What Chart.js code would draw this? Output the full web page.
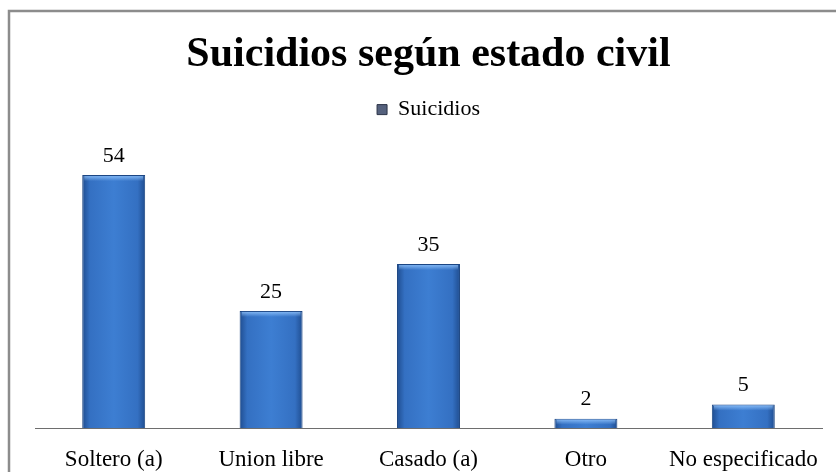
<!DOCTYPE html>
<html>
<head>
<meta charset="utf-8">
<script src="https://cdn.jsdelivr.net/npm/chart.js@4.4.1/dist/chart.umd.min.js"></script>
<style>
  html, body { margin: 0; padding: 0; background: #fff; }
  #wrap { width: 836px; height: 472px; position: relative; }
</style>
</head>
<body>
<div id="wrap"><canvas id="civil"></canvas></div>
<script>
const categories = ['Soltero (a)', 'Union libre', 'Casado (a)', 'Otro', 'No especificado'];
const suicidios = [54, 25, 35, 2, 5];
const seriesLabel = 'Suicidios';
const chartTitle = 'Suicidios según estado civil';

const SERIF = "'Liberation Serif', 'Times New Roman', serif";

// horizontal shading so each bar looks a bit rounded
function barFill(ctx) {
    const chart = ctx.chart;
    const xs = chart.scales.x;
    if (!chart.chartArea || !xs || ctx.dataIndex === undefined) return '#3572c4';
    const center = xs.getPixelForValue(ctx.dataIndex);
    const half = (xs.width / categories.length) * 0.4 / 2;
    const g = chart.ctx.createLinearGradient(center - half, 0, center + half, 0);
    g.addColorStop(0, '#1f4d90');
    g.addColorStop(0.12, '#3470c2');
    g.addColorStop(0.5, '#3d7ed2');
    g.addColorStop(0.88, '#3470c2');
    g.addColorStop(1, '#1f4d90');
    return g;
}

const framePlugin = {
    id: 'frame',
    beforeDraw(chart) {
        const c = chart.ctx;
        c.save();
        c.fillStyle = '#fff';
        c.fillRect(0, 0, chart.width, chart.height);
        c.strokeStyle = '#8c8c8c';
        c.lineWidth = 2.5;
        c.strokeRect(9, 11, chart.width + 10, chart.height + 10);
        c.restore();
    }
};

const valuePlugin = {
    id: 'values',
    afterDatasetsDraw(chart) {
        const c = chart.ctx;
        const meta = chart.getDatasetMeta(0);
        c.save();
        meta.data.forEach((bar, i) => {
            // light rim along the top of each bar
            const half = bar.width / 2;
            const hl = c.createLinearGradient(0, bar.y, 0, bar.y + 6);
            hl.addColorStop(0, 'rgba(150,200,255,0.9)');
            hl.addColorStop(1, 'rgba(150,200,255,0)');
            c.fillStyle = hl;
            c.fillRect(bar.x - half + 2, bar.y + 1, bar.width - 4, 6);

            c.fillStyle = '#000';
            c.font = '22px ' + SERIF;
            c.textAlign = 'center';
            c.textBaseline = 'middle';
            c.fillText(String(suicidios[i]), bar.x, bar.y - 19);
        });
        c.restore();
    }
};

new Chart(document.getElementById('civil'), {
    type: 'bar',
    data: {
        labels: categories,
        datasets: [{
            label: seriesLabel,
            data: suicidios,
            backgroundColor: barFill,
            borderColor: '#1c4683',
            borderWidth: 1,
            barPercentage: 0.4,
            categoryPercentage: 1
        }]
    },
    options: {
        responsive: true,
        maintainAspectRatio: false,
        animation: false,
        devicePixelRatio: 1,
        layout: { padding: { left: 35, right: 14, top: 0, bottom: 0 } },
        plugins: {
            title: {
                display: true,
                text: chartTitle,
                color: '#000',
                font: { family: SERIF, size: 42, weight: 'bold', lineHeight: 0.8 },
                padding: { top: 38, bottom: 0 }
            },
            legend: {
                display: true,
                labels: {
                    color: '#000',
                    font: { family: SERIF, size: 22 },
                    boxWidth: 10,
                    boxHeight: 10,
                    padding: 27,
                    generateLabels: () => [{
                        text: seriesLabel,
                        fillStyle: '#55617d',
                        strokeStyle: '#2c3347',
                        lineWidth: 1,
                        datasetIndex: 0
                    }]
                }
            },
            tooltip: { enabled: false }
        },
        scales: {
            x: {
                grid: { display: false },
                border: { display: true, color: '#6e6e6e', width: 1 },
                ticks: {
                    color: '#000',
                    font: { family: SERIF, size: 23 },
                    padding: 10,
                    maxRotation: 0
                },
                afterFit(scale) { scale.height = 44; }
            },
            y: {
                display: false,
                min: 0,
                max: 63.5
            }
        }
    },
    plugins: [framePlugin, valuePlugin]
});
</script>
</body>
</html>
